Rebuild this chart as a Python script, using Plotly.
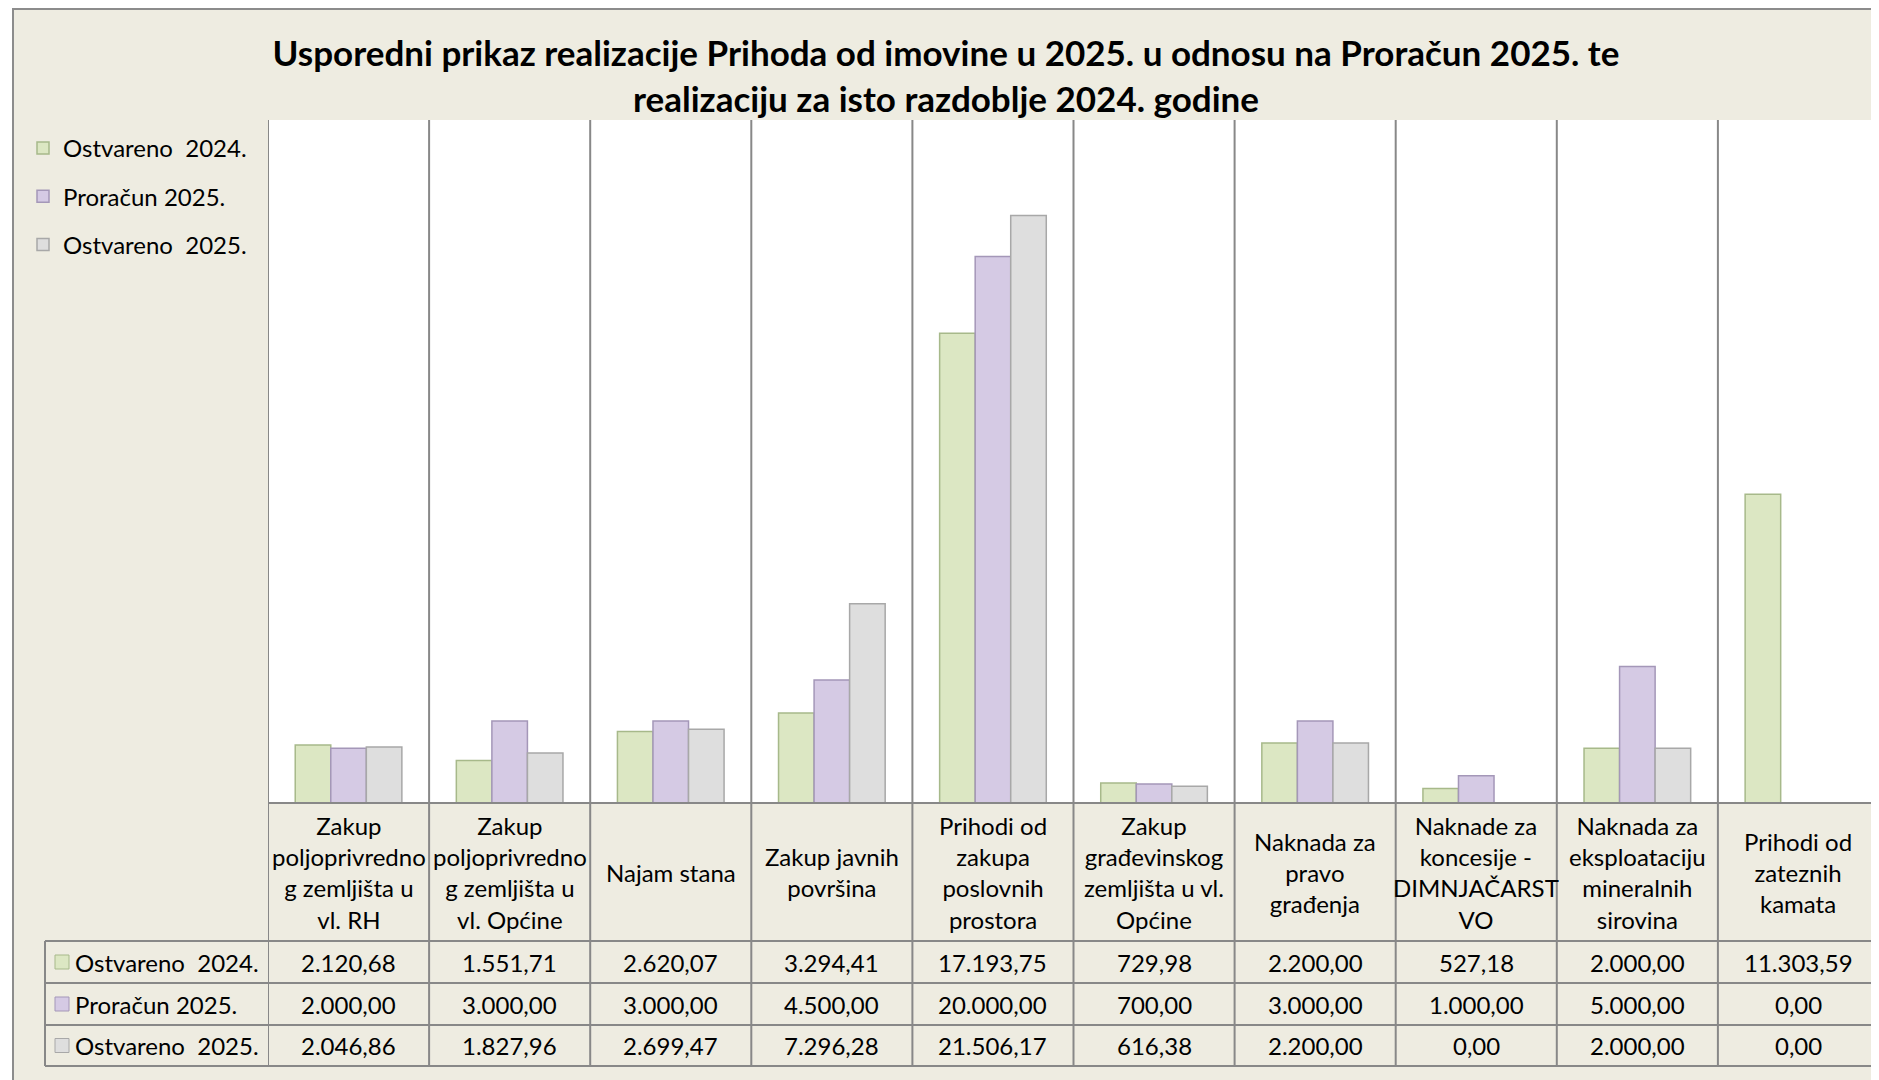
import plotly.graph_objects as go

# ---------------- data ----------------
categories = [
    "Zakup<br>poljoprivredno<br>g zemljišta u<br>vl. RH",
    "Zakup<br>poljoprivredno<br>g zemljišta u<br>vl. Općine",
    "Najam stana",
    "Zakup javnih<br>površina",
    "Prihodi od<br>zakupa<br>poslovnih<br>prostora",
    "Zakup<br>građevinskog<br>zemljišta u vl.<br>Općine",
    "Naknada za<br>pravo<br>građenja",
    "Naknade za<br>koncesije -<br>DIMNJAČARST<br>VO",
    "Naknada za<br>eksploataciju<br>mineralnih<br>sirovina",
    "Prihodi od<br>zateznih<br>kamata",
]
series_names = ["Ostvareno\u00a0 2024.", "Proračun 2025.", "Ostvareno\u00a0 2025."]
ostvareno_2024 = [2120.68, 1551.71, 2620.07, 3294.41, 17193.75, 729.98, 2200.00, 527.18, 2000.00, 11303.59]
proracun_2025 = [2000.00, 3000.00, 3000.00, 4500.00, 20000.00, 700.00, 3000.00, 1000.00, 5000.00, 0.00]
ostvareno_2025 = [2046.86, 1827.96, 2699.47, 7296.28, 21506.17, 616.38, 2200.00, 0.00, 2000.00, 0.00]
title_text = ("Usporedni prikaz realizacije Prihoda od imovine u 2025. u odnosu na Proračun 2025. te"
              "<br>realizaciju za isto razdoblje 2024. godine")

series_values = [ostvareno_2024, proracun_2025, ostvareno_2025]
fill_colors = ["#DCE7C3", "#D5CAE4", "#DEDEDE"]
edge_colors = ["#A7B98A", "#A497B8", "#A8A8A8"]

# ---------------- geometry (page pixels, page has an 8px body margin) ----------------
OFF = 8
WID, HEI = 1879 - OFF, 1080 - OFF
PL, PR, PT, PB = 268 - OFF, 1879 - OFF, 120 - OFF, 803 - OFF
PW, PH = PR - PL, PB - PT
FONT = "Lato"
GRID = "#888888"
FS = 24


def px(x):  # page x -> paper
    return (x - OFF - PL) / PW


def py(y):  # page y -> paper
    return (PB - (y - OFF)) / PH


def hr(v):
    s = f"{v:,.2f}"
    return s.replace(",", "X").replace(".", ",").replace("X", ".")


fig = go.Figure()
for k, (name, vals, fc, ec) in enumerate(zip(series_names, series_values, fill_colors, edge_colors)):
    fig.add_trace(go.Bar(
        x=categories, y=vals, name=name, legendgroup=f"g{k}",
        marker=dict(color=fc, line=dict(color=ec, width=1.5)),
        hoverinfo="y+name",
    ))

shapes = []
# outer frame / background
shapes.append(dict(type="rect", xref="paper", yref="paper", layer="below",
                   x0=px(13), x1=px(1900), y0=py(1100), y1=py(9),
                   fillcolor="#EEECE1", line=dict(color="#8C8C8C", width=2)))
# white plot area
shapes.append(dict(type="rect", xref="paper", yref="paper", layer="below",
                   x0=0, x1=1, y0=0, y1=1, fillcolor="white", line=dict(width=0)))

# vertical category separators
n = len(categories)
for i in range(n + 1):
    shapes.append(dict(type="line", xref="x", yref="paper", x0=i - 0.5, x1=i - 0.5,
                       y0=py(1066), y1=1, line=dict(color=GRID, width=2)))
# baseline
shapes.append(dict(type="line", xref="paper", yref="paper", x0=0, x1=1, y0=0, y1=0,
                   line=dict(color=GRID, width=2)))
# table horizontal lines
for yl in [941, 983, 1025, 1066]:
    shapes.append(dict(type="line", xref="paper", yref="paper", x0=px(45), x1=1,
                       y0=py(yl), y1=py(yl), line=dict(color=GRID, width=2)))
shapes.append(dict(type="line", xref="paper", yref="paper", x0=px(45), x1=px(45),
                   y0=py(941), y1=py(1066), line=dict(color=GRID, width=2)))

annotations = []
# category labels (header row)
for c in categories:
    annotations.append(dict(x=c, xref="x", y=py(872), yref="paper", text=c, showarrow=False,
                            font=dict(family=FONT, size=FS, color="black"), align="center",
                            xanchor="center", yanchor="middle"))
# data rows
row_centers = [962, 1004, 1045.5]
for name, vals, fc, ec, yc in zip(series_names, series_values, fill_colors, edge_colors, row_centers):
    shapes.append(dict(type="rect", xref="paper", yref="paper",
                       x0=px(55), x1=px(69), y0=py(yc + 7), y1=py(yc - 7),
                       fillcolor=fc, line=dict(color=ec, width=1)))
    annotations.append(dict(x=px(73), xref="paper", y=py(yc), yref="paper", text=name,
                            showarrow=False, xanchor="left", yanchor="middle",
                            font=dict(family=FONT, size=FS, color="black")))
    for c, v in zip(categories, vals):
        annotations.append(dict(x=c, xref="x", y=py(yc), yref="paper", text=hr(v),
                                showarrow=False, xanchor="center", yanchor="middle",
                                font=dict(family=FONT, size=FS, color="black")))

fig.update_layout(
    width=WID, height=HEI,
    margin=dict(l=PL, r=WID - PR, t=PT, b=HEI - PB, pad=0),
    paper_bgcolor="white", plot_bgcolor="rgba(0,0,0,0)",
    barmode="group", bargap=0.338, bargroupgap=0,
    showlegend=True,
    legend=dict(x=px(23), xanchor="left", y=py(126), yanchor="top",
                bgcolor="rgba(0,0,0,0)", borderwidth=0, tracegroupgap=14,
                traceorder="grouped",
                font=dict(family=FONT, size=FS, color="black")),
    title=dict(text=title_text, x=(946 - OFF) / WID, xanchor="center", xref="container",
               y=1 - (66 - OFF) / HEI, yanchor="middle", yref="container",
               font=dict(family=FONT, size=35, color="black", weight="bold")),
    xaxis=dict(type="category", range=[-0.5, n - 0.5], showticklabels=False,
               showgrid=False, zeroline=False, showline=False, ticks=""),
    yaxis=dict(range=[0, 25000], showticklabels=False, showgrid=False,
               zeroline=False, showline=False, ticks=""),
    shapes=shapes, annotations=annotations,
)

fig.write_html("out.html")
